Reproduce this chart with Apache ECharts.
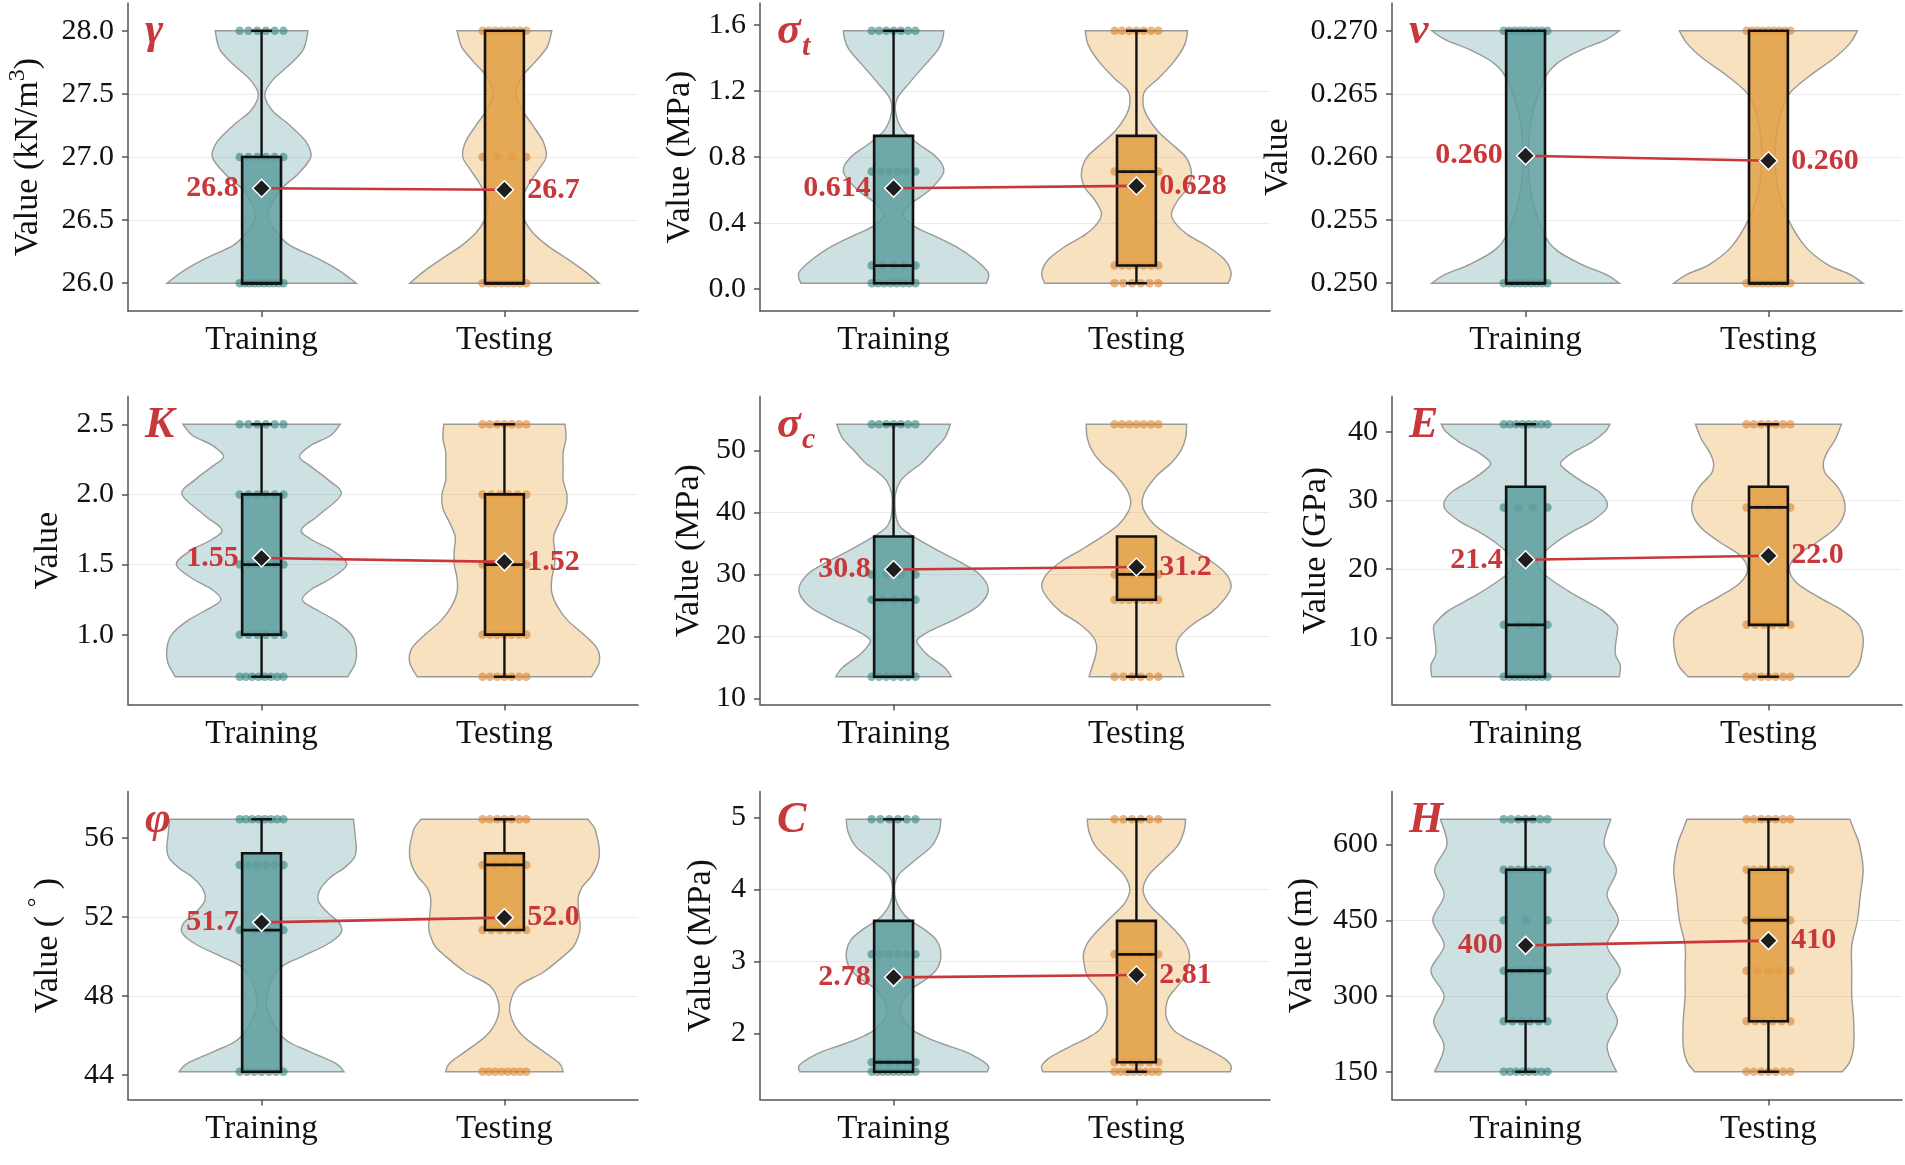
<!DOCTYPE html>
<html><head><meta charset="utf-8">
<script src="https://cdn.jsdelivr.net/npm/echarts@6/dist/echarts.min.js"></script>
<style>html,body{margin:0;padding:0;background:#fff}#c{width:1905px;height:1165px}</style>
</head><body><div id="c"></div>
<script>
// ================= DATA =================
const groups = ['Training', 'Testing'];

// --- γ (unit weight) ---
const gammaLevels = [26, 27, 28];
const gammaTrainCounts = [10, 6, 6];
const gammaTestCounts = [8, 4, 8];
const gammaTrainBox = [26, 26, 26, 27, 28];      // low, Q1, median, Q3, high
const gammaTestBox = [26, 26, 26, 28, 28];
const gammaMeans = [26.752, 26.74];
const gammaTicks = [26, 26.5, 27, 27.5, 28];
const gammaTrainViolin = [[26,1.0],[26.1,0.82],[26.2,0.58],[26.3,0.3],[26.4,0.16],[26.53,0.065],[26.65,0.12],[26.75,0.21],[26.87,0.39],[27.0,0.52],[27.12,0.47],[27.25,0.3],[27.37,0.11],[27.5,0.035],[27.62,0.13],[27.72,0.28],[27.85,0.44],[28.0,0.49]];
const gammaTestViolin = [[26,1.0],[26.1,0.84],[26.2,0.65],[26.3,0.45],[26.4,0.3],[26.5,0.21],[26.6,0.17],[26.7,0.2],[26.8,0.27],[26.9,0.36],[27.0,0.44],[27.12,0.41],[27.25,0.3],[27.37,0.19],[27.5,0.12],[27.63,0.18],[27.75,0.32],[27.87,0.45],[28.0,0.5]];

// --- σt ---
const sigmaTLevels = [0.036, 0.143, 0.712, 1.564];
const sigmaTTrainCounts = [8, 5, 6, 7];
const sigmaTTestCounts = [6, 7, 6, 7];
const sigmaTTrainBox = [0.036, 0.036, 0.143, 0.928, 1.564];
const sigmaTTestBox = [0.036, 0.143, 0.712, 0.928, 1.564];
const sigmaTMeans = [0.611, 0.625];
const sigmaTMeanLabels = ['0.614', '0.628'];
const sigmaTTicks = [0, 0.4, 0.8, 1.2, 1.6];
const sigmaTTrainViolin = [[0.036,0.98],[0.1,1.0],[0.18,0.86],[0.26,0.65],[0.33,0.4],[0.38,0.22],[0.45,0.1],[0.52,0.19],[0.6,0.38],[0.71,0.53],[0.8,0.45],[0.88,0.26],[0.96,0.1],[1.06,0.025],[1.15,0.035],[1.25,0.17],[1.35,0.32],[1.45,0.47],[1.52,0.52],[1.564,0.53]];
const sigmaTTestViolin = [[0.036,0.97],[0.1,1.0],[0.18,0.93],[0.26,0.75],[0.33,0.54],[0.4,0.41],[0.46,0.37],[0.54,0.44],[0.62,0.55],[0.71,0.58],[0.8,0.52],[0.88,0.37],[0.96,0.22],[1.05,0.11],[1.12,0.07],[1.2,0.09],[1.28,0.24],[1.38,0.4],[1.48,0.51],[1.564,0.54]];

// --- ν ---
const nuLevels = [0.25, 0.27];
const nuTrainCounts = [9, 9];
const nuTestCounts = [9, 9];
const nuTrainBox = [0.25, 0.25, 0.25, 0.27, 0.27];
const nuTestBox = [0.25, 0.25, 0.25, 0.27, 0.27];
const nuMeans = [0.2601, 0.2597];
const nuTicks = [0.25, 0.255, 0.26, 0.265, 0.27];
const nuTrainViolin = [[0.25,0.99],[0.2507,0.85],[0.2515,0.59],[0.2526,0.33],[0.254,0.19],[0.257,0.06],[0.26,0.03],[0.263,0.06],[0.266,0.19],[0.2674,0.33],[0.2685,0.59],[0.2693,0.85],[0.27,0.99]];
const nuTestViolin = [[0.25,1.0],[0.2507,0.86],[0.2515,0.62],[0.2529,0.39],[0.2552,0.2],[0.2575,0.1],[0.26,0.07],[0.2625,0.1],[0.2648,0.2],[0.2664,0.43],[0.2678,0.69],[0.269,0.86],[0.27,0.94]];

// --- K ---
const kLevels = [0.7, 1.0, 1.5, 2.0, 2.5];
const kTrainCounts = [8, 6, 6, 6, 6];
const kTestCounts = [7, 7, 5, 6, 7];
const kTrainBox = [0.7, 1.0, 1.5, 2.0, 2.5];
const kTestBox = [0.7, 1.0, 1.5, 2.0, 2.5];
const kMeans = [1.547, 1.519];
const kTicks = [1.0, 1.5, 2.0, 2.5];
const kTrainViolin = [[0.7,0.91],[0.8,0.99],[0.9,1.0],[1.0,0.95],[1.1,0.78],[1.2,0.52],[1.25,0.43],[1.32,0.52],[1.4,0.73],[1.5,0.9],[1.6,0.75],[1.68,0.52],[1.75,0.42],[1.85,0.6],[2.0,0.84],[2.1,0.71],[2.2,0.52],[2.27,0.4],[2.35,0.52],[2.42,0.73],[2.5,0.83]];
const kTestViolin = [[0.7,0.92],[0.8,1.0],[0.9,0.98],[1.0,0.84],[1.1,0.67],[1.2,0.56],[1.3,0.5],[1.4,0.5],[1.5,0.53],[1.6,0.53],[1.7,0.52],[1.8,0.58],[1.9,0.65],[2.0,0.66],[2.1,0.62],[2.2,0.62],[2.3,0.62],[2.4,0.65],[2.5,0.64]];

// --- σc ---
const sigmaCLevels = [13.5, 25.9, 30.0, 54.2];
const sigmaCTrainCounts = [7, 5, 4, 7];
const sigmaCTestCounts = [6, 7, 6, 7];
const sigmaCTrainBox = [13.5, 13.5, 25.9, 36.1, 54.2];
const sigmaCTestBox = [13.5, 25.9, 30.0, 36.1, 36.1];
const sigmaCMeans = [30.78, 31.2];
const sigmaCTicks = [10, 20, 30, 40, 50];
const sigmaCTrainViolin = [[13.5,0.61],[15,0.54],[17,0.36],[18.5,0.27],[19.5,0.25],[21,0.4],[23,0.68],[25,0.9],[27.5,1.0],[30,0.91],[32,0.7],[34,0.45],[36,0.22],[37.5,0.08],[39,0.03],[41,0.015],[43,0.02],[45,0.07],[46.5,0.17],[48,0.3],[50,0.42],[52,0.54],[54.2,0.6]];
const sigmaCTestViolin = [[13.5,0.5],[15,0.47],[17,0.43],[18.5,0.42],[20,0.46],[22,0.6],[24,0.8],[26,0.93],[28,1.0],[30,0.95],[32,0.8],[34,0.58],[36,0.37],[38,0.19],[40,0.09],[41.5,0.06],[43,0.08],[44.5,0.14],[46,0.22],[48,0.37],[50,0.47],[52,0.52],[54.2,0.53]];

// --- E ---
const eLevels = [4.35, 11.9, 29.0, 41.1];
const eTrainCounts = [9, 4, 4, 8];
const eTestCounts = [7, 6, 5, 7];
const eTrainBox = [4.35, 4.35, 11.9, 32.0, 41.1];
const eTestBox = [4.35, 11.9, 29.0, 32.0, 41.1];
const eMeans = [21.37, 21.97];
const eTicks = [10, 20, 30, 40];
const eTrainViolin = [[4.35,0.99],[6,1.0],[7.5,0.95],[9,0.95],[11,0.97],[12,0.96],[14,0.81],[16,0.55],[18,0.32],[19.5,0.18],[21,0.13],[22.5,0.2],[24,0.33],[25.5,0.5],[27,0.7],[29,0.86],[31,0.8],[33,0.57],[34.5,0.42],[35.5,0.37],[37,0.5],[38.5,0.7],[40,0.84],[41.1,0.89]];
const eTestViolin = [[4.35,0.85],[6,0.95],[8,0.99],[10,1.0],[12,0.95],[14,0.78],[16,0.52],[18,0.3],[20,0.22],[22,0.3],[24,0.52],[26,0.71],[28,0.8],[30,0.8],[32,0.73],[34,0.6],[35.5,0.58],[37,0.62],[39,0.71],[41.1,0.77]];

// --- φ ---
const phiLevels = [44.17, 51.33, 54.62, 56.93];
const phiTrainCounts = [7, 4, 6, 8];
const phiTestCounts = [8, 6, 5, 7];
const phiTrainBox = [44.17, 44.17, 51.33, 55.21, 56.93];
const phiTestBox = [51.33, 51.33, 54.62, 55.21, 56.93];
const phiMeans = [51.72, 51.96];
const phiTicks = [44, 48, 52, 56];
const phiTrainViolin = [[44.17,0.87],[44.6,0.78],[45.2,0.5],[45.7,0.28],[46.3,0.16],[47.5,0.05],[48.7,0.1],[49.5,0.22],[50,0.43],[50.6,0.69],[51.2,0.84],[51.7,0.82],[52.2,0.7],[52.8,0.6],[53.4,0.62],[54,0.73],[54.5,0.88],[55,0.98],[55.5,1.0],[56,0.99],[56.5,0.98],[56.93,0.97]];
const phiTestViolin = [[44.17,0.62],[44.6,0.58],[45.2,0.41],[46,0.19],[46.8,0.08],[47.6,0.06],[48.5,0.15],[49.2,0.41],[50,0.62],[50.5,0.73],[51,0.78],[51.5,0.8],[52,0.79],[52.5,0.78],[53,0.78],[53.5,0.82],[54,0.91],[54.5,0.97],[55,1.0],[55.5,1.0],[56,0.98],[56.5,0.95],[56.93,0.88]];

// --- C ---
const cLevels = [1.468, 1.6, 3.1, 4.977];
const cTrainCounts = [9, 6, 6, 6];
const cTestCounts = [8, 6, 6, 6];
const cTrainBox = [1.468, 1.468, 1.6, 3.565, 4.977];
const cTestBox = [1.468, 1.6, 3.1, 3.565, 4.977];
const cMeans = [2.78, 2.813];
const cTicks = [2, 3, 4, 5];
const cTrainViolin = [[1.468,0.99],[1.55,1.0],[1.65,0.9],[1.75,0.75],[1.85,0.53],[1.95,0.34],[2.05,0.2],[2.2,0.1],[2.35,0.07],[2.5,0.12],[2.62,0.19],[2.75,0.34],[2.9,0.46],[3.1,0.5],[3.3,0.45],[3.45,0.32],[3.6,0.15],[3.8,0.04],[4.0,0.01],[4.2,0.05],[4.4,0.22],[4.6,0.4],[4.8,0.48],[4.977,0.5]];
const cTestViolin = [[1.468,0.99],[1.55,1.0],[1.65,0.93],[1.75,0.8],[1.85,0.65],[1.95,0.5],[2.05,0.39],[2.2,0.32],[2.35,0.31],[2.5,0.34],[2.65,0.43],[2.8,0.52],[2.95,0.55],[3.1,0.56],[3.25,0.52],[3.4,0.43],[3.6,0.28],[3.8,0.13],[4.0,0.07],[4.2,0.13],[4.4,0.28],[4.6,0.43],[4.8,0.5],[4.977,0.52]];

// --- H ---
const hLevels = [150, 250, 350, 450, 550, 650];
const hTrainCounts = [8, 6, 6, 3, 7, 7];
const hTestCounts = [7, 6, 5, 6, 7, 7];
const hTrainBox = [150, 250, 350, 550, 650];
const hTestBox = [150, 250, 450, 550, 650];
const hMeans = [400.3, 409.6];
const hTicks = [150, 300, 450, 600];
const hTrainViolin = [[150,0.96],[200,0.86],[250,0.97],[300,0.86],[350,1.0],[400,0.86],[450,0.98],[500,0.86],[550,0.96],[600,0.83],[650,0.9]];
const hTestViolin = [[150,0.78],[170,0.86],[200,0.9],[250,0.9],[300,0.88],[350,0.88],[400,0.88],[450,0.94],[500,0.97],[550,1.0],[600,0.96],[630,0.9],[650,0.86]];

// ================= STYLE / LAYOUT =================
const FONT = "'Liberation Serif','Times New Roman',serif";
const RED = '#C8373A';
const COL_LEFT = [128, 760, 1392];
const ROW_TOP = [3, 396.5, 791.5];
const PANEL_W = 510, PANEL_H = 308;
const X_MIN = 0.45, X_MAX = 2.55;
const EXPAND = 0.11;
const VIOLIN_HALF = 0.39, BOX_HALF = 0.08, CAP_HALF = 0.043, JITTER = 0.09;
const VIOLIN_FILL = ['rgba(95,158,160,0.31)', 'rgba(232,163,61,0.33)'];
const BOX_FILL = ['rgba(95,158,160,0.86)', 'rgba(226,158,66,0.86)'];
const POINT_COLOR = ['#2E7F7B', '#D9822B'];

const panels = [
  {sym: 'γ', title: 'Value (kN/m{sup|3})', gap: 78, tickDec: 1, meanDec: 1, levels: gammaLevels, counts: [gammaTrainCounts, gammaTestCounts], box: [gammaTrainBox, gammaTestBox], means: gammaMeans, ticks: gammaTicks, violins: [gammaTrainViolin, gammaTestViolin]},
  {sym: 'σ', sub: 't', title: 'Value (MPa)', gap: 63, tickDec: 1, meanLabels: sigmaTMeanLabels, levels: sigmaTLevels, counts: [sigmaTTrainCounts, sigmaTTestCounts], box: [sigmaTTrainBox, sigmaTTestBox], means: sigmaTMeans, ticks: sigmaTTicks, violins: [sigmaTTrainViolin, sigmaTTestViolin]},
  {sym: 'ν', title: 'Value', gap: 97, tickDec: 3, meanDec: 3, levels: nuLevels, counts: [nuTrainCounts, nuTestCounts], box: [nuTrainBox, nuTestBox], means: nuMeans, ticks: nuTicks, violins: [nuTrainViolin, nuTestViolin]},
  {sym: 'K', title: 'Value', gap: 63, tickDec: 1, meanDec: 2, levels: kLevels, counts: [kTrainCounts, kTestCounts], box: [kTrainBox, kTestBox], means: kMeans, ticks: kTicks, violins: [kTrainViolin, kTestViolin]},
  {sym: 'σ', sub: 'c', title: 'Value (MPa)', gap: 54, tickDec: 0, meanDec: 1, levels: sigmaCLevels, counts: [sigmaCTrainCounts, sigmaCTestCounts], box: [sigmaCTrainBox, sigmaCTestBox], means: sigmaCMeans, ticks: sigmaCTicks, violins: [sigmaCTrainViolin, sigmaCTestViolin]},
  {sym: 'E', title: 'Value (GPa)', gap: 59, tickDec: 0, meanDec: 1, levels: eLevels, counts: [eTrainCounts, eTestCounts], box: [eTrainBox, eTestBox], means: eMeans, ticks: eTicks, violins: [eTrainViolin, eTestViolin]},
  {sym: 'φ', title: 'Value ( {sup|°} )', gap: 58, tickDec: 0, meanDec: 1, levels: phiLevels, counts: [phiTrainCounts, phiTestCounts], box: [phiTrainBox, phiTestBox], means: phiMeans, ticks: phiTicks, violins: [phiTrainViolin, phiTestViolin]},
  {sym: 'C', title: 'Value (MPa)', gap: 42, tickDec: 0, meanDec: 2, levels: cLevels, counts: [cTrainCounts, cTestCounts], box: [cTrainBox, cTestBox], means: cMeans, ticks: cTicks, violins: [cTrainViolin, cTestViolin]},
  {sym: 'H', title: 'Value (m)', gap: 73, tickDec: 0, meanDec: 0, levels: hLevels, counts: [hTrainCounts, hTestCounts], box: [hTrainBox, hTestBox], means: hMeans, ticks: hTicks, violins: [hTrainViolin, hTestViolin]}
];

// Catmull-Rom curve through pixel points (rendering of the read profile)
function curveThrough(pts) {
  let s = '';
  for (let i = 0; i < pts.length - 1; i++) {
    const p0 = pts[Math.max(i - 1, 0)], p1 = pts[i], p2 = pts[i + 1], p3 = pts[Math.min(i + 2, pts.length - 1)];
    const c1x = p1[0] + (p2[0] - p0[0]) / 6, c1y = p1[1] + (p2[1] - p0[1]) / 6;
    const c2x = p2[0] - (p3[0] - p1[0]) / 6, c2y = p2[1] - (p3[1] - p1[1]) / 6;
    s += ' C' + c1x + ',' + c1y + ' ' + c2x + ',' + c2y + ' ' + p2[0] + ',' + p2[1];
  }
  return s;
}

const grid = [], xAxis = [], yAxis = [], series = [], graphic = [];
const axisLineStyle = {color: '#555', width: 1.5};

panels.forEach((p, i) => {
  const c = i % 3, r = Math.floor(i / 3);
  const left = COL_LEFT[c], top = ROW_TOP[r];
  grid.push({left: left, top: top, width: PANEL_W, height: PANEL_H, containLabel: false, outerBoundsMode: 'none'});
  const lo = Math.min(...p.levels), hi = Math.max(...p.levels), pad = (hi - lo) * EXPAND;
  xAxis.push({
    gridIndex: i, type: 'value', min: X_MIN, max: X_MAX,
    axisLine: {show: true, onZero: false, lineStyle: axisLineStyle},
    axisTick: {show: true, length: 6, customValues: [1, 2], lineStyle: axisLineStyle},
    axisLabel: {customValues: [1, 2], formatter: v => groups[Math.round(v) - 1], fontSize: 33, fontFamily: FONT, color: '#111', margin: 13},
    splitLine: {show: false}
  });
  const hasSup = p.title.indexOf('{sup|') >= 0;
  yAxis.push({
    gridIndex: i, type: 'value', min: lo - pad, max: hi + pad,
    name: p.title, nameLocation: 'middle', nameGap: p.gap,
    nameTextStyle: Object.assign({fontSize: 34, fontFamily: FONT, color: '#111'},
      hasSup ? {lineHeight: 44, rich: {sup: {fontSize: 24, lineHeight: 24, verticalAlign: 'top', fontFamily: FONT, color: '#111'}}} : {}),
    axisLine: {show: true, onZero: false, lineStyle: axisLineStyle},
    axisTick: {show: true, length: 6, customValues: p.ticks, lineStyle: axisLineStyle},
    axisLabel: {customValues: p.ticks, formatter: v => v.toFixed(p.tickDec), fontSize: 30, fontFamily: FONT, color: '#111', margin: 14},
    splitLine: {show: true, showMinLine: false, showMaxLine: false, lineStyle: {color: '#EBEBEB', width: 1.2}}
  });

  // violins
  series.push({
    type: 'custom', xAxisIndex: i, yAxisIndex: i, z: 1, silent: true,
    data: groups.map((g, k) => [k + 1, p.box[k][2]]),
    encode: {x: 0, y: 1},
    renderItem: (params, api) => {
      const k = params.dataIndex, prof = p.violins[k], cx = k + 1;
      const L = prof.map(([v, d]) => api.coord([cx - d * VIOLIN_HALF, v]));
      const R = prof.slice().reverse().map(([v, d]) => api.coord([cx + d * VIOLIN_HALF, v]));
      const d = 'M' + L[0][0] + ',' + L[0][1] + curveThrough(L) + ' L' + R[0][0] + ',' + R[0][1] + curveThrough(R) + ' Z';
      return {type: 'path', shape: {pathData: d}, style: {fill: VIOLIN_FILL[k], stroke: '#9A9A9A', lineWidth: 1.4}};
    }
  });

  // jittered points
  groups.forEach((g, k) => {
    const pts = [];
    p.levels.forEach((lv, j) => {
      const n = p.counts[k][j];
      for (let m = 0; m < n; m++) {
        const off = n > 1 ? JITTER * (2 * m / (n - 1) - 1) : 0;
        pts.push([k + 1 + off, lv]);
      }
    });
    series.push({
      type: 'scatter', xAxisIndex: i, yAxisIndex: i, z: 2, silent: true,
      symbol: 'circle', symbolSize: 8.5, data: pts,
      itemStyle: {color: POINT_COLOR[k], opacity: 0.58}
    });
  });

  // boxes
  series.push({
    type: 'custom', xAxisIndex: i, yAxisIndex: i, z: 3, silent: true,
    data: groups.map((g, k) => [k + 1].concat(p.box[k])),
    encode: {x: 0, y: [1, 2, 3, 4, 5]},
    renderItem: (params, api) => {
      const k = params.dataIndex;
      const x = api.value(0), lo = api.value(1), q1 = api.value(2), md = api.value(3), q3 = api.value(4), hi = api.value(5);
      const ls = {stroke: '#111', lineWidth: 2.4};
      const ch = [];
      const seg = (a, b) => ({type: 'line', shape: {x1: a[0], y1: a[1], x2: b[0], y2: b[1]}, style: ls});
      if (hi > q3) {
        ch.push(seg(api.coord([x, q3]), api.coord([x, hi])));
        ch.push(seg(api.coord([x - CAP_HALF, hi]), api.coord([x + CAP_HALF, hi])));
      }
      if (lo < q1) {
        ch.push(seg(api.coord([x, q1]), api.coord([x, lo])));
        ch.push(seg(api.coord([x - CAP_HALF, lo]), api.coord([x + CAP_HALF, lo])));
      }
      const a = api.coord([x - BOX_HALF, q3]), b = api.coord([x + BOX_HALF, q1]);
      ch.push({type: 'rect', shape: {x: a[0], y: a[1], width: b[0] - a[0], height: b[1] - a[1]}, style: {fill: BOX_FILL[k], stroke: '#111', lineWidth: 2.6}});
      const my = api.coord([x, md])[1];
      ch.push({type: 'line', shape: {x1: a[0], y1: my, x2: b[0], y2: my}, style: {stroke: '#111', lineWidth: 2.8}});
      return {type: 'group', children: ch};
    }
  });

  // mean connecting line
  series.push({
    type: 'line', xAxisIndex: i, yAxisIndex: i, z: 4, silent: true, symbol: 'none',
    data: [[1, p.means[0]], [2, p.means[1]]],
    lineStyle: {color: RED, width: 2.6}
  });

  // mean diamonds + labels
  series.push({
    type: 'scatter', xAxisIndex: i, yAxisIndex: i, z: 5, silent: true,
    symbol: 'diamond', symbolSize: 18,
    itemStyle: {color: '#1E1E1E', borderColor: '#FFFFFF', borderWidth: 1.5, opacity: 1},
    data: [
      {value: [1, p.means[0]], label: {position: 'left'}},
      {value: [2, p.means[1]], label: {position: 'right'}}
    ],
    label: {
      show: true, distance: 13,
      formatter: prm => p.meanLabels ? p.meanLabels[prm.dataIndex] : prm.value[1].toFixed(p.meanDec),
      fontSize: 30, fontWeight: 'bold', fontFamily: FONT, color: RED
    }
  });

  // panel symbol
  graphic.push({type: 'text', x: left + 17, y: top + 7, z: 100,
    style: {text: p.sym, fontSize: 44, fontStyle: 'italic', fontWeight: 'bold', fontFamily: FONT, fill: RED, verticalAlign: 'top'}});
  if (p.sub) {
    graphic.push({type: 'text', x: left + 42, y: top + 29, z: 100,
      style: {text: p.sub, fontSize: 30, fontStyle: 'italic', fontWeight: 'bold', fontFamily: FONT, fill: RED, verticalAlign: 'top'}});
  }
});

const chart = echarts.init(document.getElementById('c'), null, {renderer: 'canvas'});
chart.setOption({
  backgroundColor: '#ffffff',
  animation: false,
  grid, xAxis, yAxis, series, graphic
});
</script>
</body></html>
